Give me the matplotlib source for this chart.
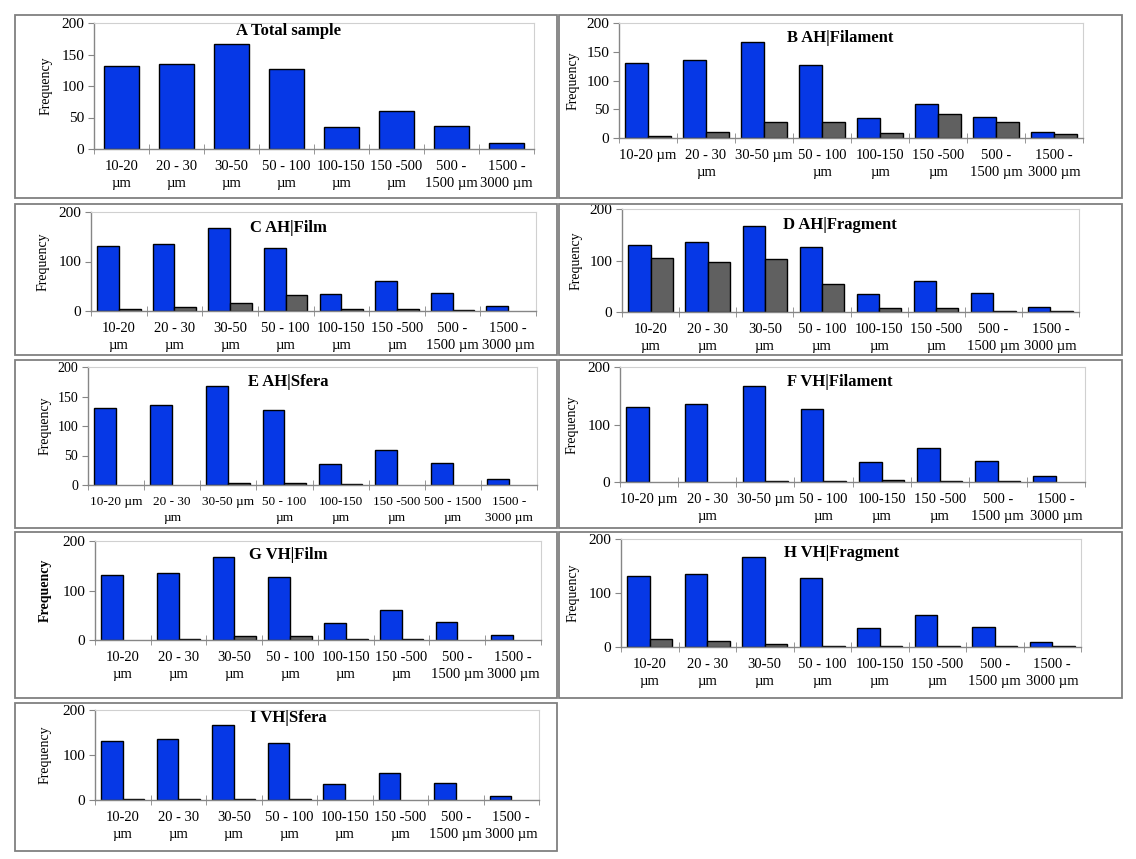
import numpy as np
import matplotlib.pyplot as plt
from matplotlib.patches import Rectangle

plt.rcParams['font.family'] = ['Liberation Serif', 'DejaVu Serif']

# dati
total_sample = [131, 135, 167, 127, 35, 60, 37, 10]
ah_filament = [4, 11, 27, 27, 9, 41, 27, 7]
ah_film = [5, 8, 16, 32, 5, 5, 2, 0]
ah_fragment = [105, 97, 102, 54, 8, 8, 2, 2]
ah_sfera = [0, 0, 4, 4, 2, 0, 0, 0]
vh_filament = [0, 0, 2, 2, 4, 2, 2, 0]
vh_film = [0, 2, 8, 8, 3, 2, 0, 0]
vh_fragment = [15, 12, 5, 2, 2, 2, 2, 2]
vh_sfera = [2, 2, 2, 2, 0, 0, 0, 0]

labels_wrap = ["10-20\nµm", "20 - 30\nµm", "30-50\nµm", "50 - 100\nµm",
               "100-150\nµm", "150 -500\nµm", "500 -\n1500 µm", "1500 -\n3000 µm"]
labels_mixed = ["10-20 µm", "20 - 30\nµm", "30-50 µm", "50 - 100\nµm",
                "100-150\nµm", "150 -500\nµm", "500 -\n1500 µm", "1500 -\n3000 µm"]
labels_e = ["10-20 µm", "20 - 30\nµm", "30-50 µm", "50 - 100\nµm",
            "100-150\nµm", "150 -500\nµm", "500 - 1500\nµm", "1500 -\n3000 µm"]

BLUE = '#0638e6'
GRAY = '#606060'
W, H = 1136, 859

# pannelli: titolo, serie grigia, box (x0,y0,x1,y1), assi (sx, y200, dx, y0),
# titolo (x,y), ylabel x, tick y, etichette, font etichette, ylabel grassetto
panels = [
    ("A Total sample", None, (15, 15, 557, 198), (94, 23, 534, 149), (288, 31), 46,
     [0, 50, 100, 150, 200], labels_wrap, 10.5, False),
    ("B AH|Filament", ah_filament, (559, 15, 1122, 198), (619, 23, 1083, 138), (840, 38), 573,
     [0, 50, 100, 150, 200], labels_mixed, 10.5, False),
    ("C AH|Film", ah_film, (15, 204, 557, 355), (91, 212, 536, 311), (288, 228), 43,
     [0, 100, 200], labels_wrap, 10.5, False),
    ("D AH|Fragment", ah_fragment, (559, 204, 1122, 355), (622, 209, 1079, 312), (840, 225), 576,
     [0, 100, 200], labels_wrap, 10.5, False),
    ("E AH|Sfera", ah_sfera, (15, 360, 557, 528), (88, 367, 537, 485), (288, 382), 45,
     [0, 50, 100, 150, 200], labels_e, 9.5, False),
    ("F VH|Filament", vh_filament, (559, 360, 1122, 528), (620, 367, 1085, 482), (840, 382), 572,
     [0, 100, 200], labels_mixed, 10.5, False),
    ("G VH|Film", vh_film, (15, 532, 557, 698), (95, 541, 541, 640), (288, 555), 45,
     [0, 100, 200], labels_wrap, 10.5, True),
    ("H VH|Fragment", vh_fragment, (559, 532, 1122, 698), (621, 539, 1081, 647), (842, 553), 573,
     [0, 100, 200], labels_wrap, 10.5, False),
    ("I VH|Sfera", vh_sfera, (15, 703, 557, 851), (95, 710, 539, 800), (288, 718), 45,
     [0, 100, 200], labels_wrap, 10.5, False),
]

fig = plt.figure(figsize=(W / 100, H / 100), dpi=100)

x = np.arange(len(total_sample))
for (title, gray, box, axp, tpos, ylx, yticks, labels, lfs, ybold) in panels:
    # cornice del pannello
    bx0, by0, bx1, by1 = box
    fig.patches.append(Rectangle((bx0 / W, 1 - by1 / H), (bx1 - bx0) / W, (by1 - by0) / H,
                                 transform=fig.transFigure, fill=False,
                                 edgecolor='#808080', linewidth=1.3))
    l, t, r, b = axp
    ax = fig.add_axes([l / W, 1 - b / H, (r - l) / W, (b - t) / H])

    tot = np.array(total_sample)
    if gray is None:
        ax.bar(x, tot, width=0.63, color=BLUE, edgecolor='black', linewidth=1)
    else:
        g = np.array(gray)
        ax.bar(x - 0.195, tot, width=0.39, color=BLUE, edgecolor='black', linewidth=1)
        m = g > 0
        ax.bar(x[m] + 0.195, g[m], width=0.39, color=GRAY, edgecolor='black', linewidth=1)

    ax.set_xlim(-0.5, 7.5)
    ax.set_ylim(0, 200)
    ax.set_yticks(yticks)
    ax.tick_params(axis='y', labelsize=lfs + 0.5, length=4, color='#868686', pad=3)
    ax.set_xticks(x)
    ax.set_xticklabels(labels, fontsize=lfs, linespacing=1.4)
    ax.set_xticks(np.arange(-0.5, 8, 1), minor=True)
    ax.tick_params(axis='x', which='major', length=0, pad=8)
    ax.tick_params(axis='x', which='minor', direction='inout', length=7, color='#868686')

    for s in ['left', 'bottom']:
        ax.spines[s].set_color('#868686')
        ax.spines[s].set_linewidth(1)
    for s in ['top', 'right']:
        ax.spines[s].set_color('#d0d0d0')
        ax.spines[s].set_linewidth(0.8)

    ax.set_ylabel('Frequency', fontsize=10, fontweight='bold' if ybold else 'normal',
                  va='center')
    ax.yaxis.set_label_coords((ylx - l) / (r - l), 0.5)

    fig.text(tpos[0] / W, 1 - tpos[1] / H, title, fontsize=12, fontweight='bold',
             ha='center', va='center')

fig.savefig('out.png', dpi=100)
